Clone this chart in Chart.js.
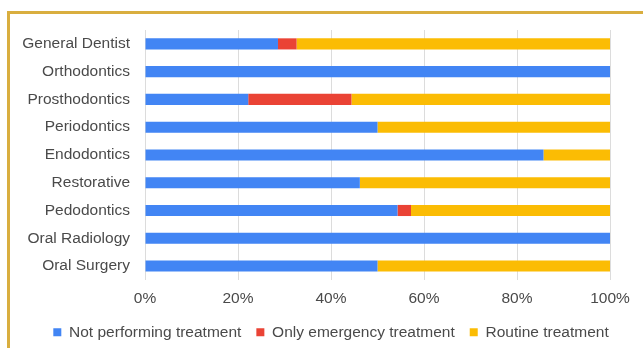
<!DOCTYPE html>
<html>
<head>
<meta charset="utf-8">
<script src="https://cdn.jsdelivr.net/npm/chart.js@4/dist/chart.umd.min.js"></script>
<style>
  html, body { margin: 0; padding: 0; background: #fff; overflow: hidden; }
  #wrap { position: relative; width: 643px; height: 348px; }
  #frame {
    position: absolute; left: 7px; top: 11px; width: 700px; height: 400px;
    border-top: 3px solid #D9AE3F; border-left: 3px solid #D9AE3F;
    pointer-events: none;
  }
  canvas { position: absolute; left: 0; top: 0; }
</style>
</head>
<body>
<div id="wrap">
  <canvas id="chart" width="643" height="348"></canvas>
  <div id="frame"></div>
</div>
<script>
// specialties, top to bottom
const categories = ["General Dentist", "Orthodontics", "Prosthodontics", "Periodontics", "Endodontics",
    "Restorative", "Pedodontics", "Oral Radiology", "Oral Surgery"];

// percent of respondents
const notPerforming = [28.6, 100, 22.2, 50, 85.7, 46.2, 54.3, 100, 50];
const onlyEmergency = [4.0, 0, 22.2, 0, 0, 0, 2.9, 0, 0];
const routine = [67.4, 0, 55.6, 50, 14.3, 53.8, 42.9, 0, 50];

const xTicks = [0, 20, 40, 60, 80, 100];

const FONT = "'Liberation Sans', Arial, sans-serif";
const TEXT = "#4a4a4a";
const SIZE = 15.5;

const makeSet = (label, data, color) => ({
    label: label,
    data: data,
    backgroundColor: color,
    borderWidth: 0,
    categoryPercentage: 0.5,
    barPercentage: 0.8
});

// nudge the legend so it sits where the original one is
const legendShift = {
    id: "legendShift",
    afterLayout(chart) {
        const lg = chart.legend;
        lg.left += 21; lg.right += 21;
        lg.top += 2; lg.bottom += 2;
    }
};

new Chart(document.getElementById("chart").getContext("2d"), {
    type: "bar",
    data: {
        labels: categories,
        datasets: [
            makeSet("Not performing treatment", notPerforming, "#4285F4"),
            makeSet("Only emergency treatment", onlyEmergency, "#EA4335"),
            makeSet("Routine treatment", routine, "#FBBC04")
        ]
    },
    options: {
        indexAxis: "y",
        responsive: false,
        animation: false,
        layout: { padding: { top: 30, right: 33, left: 10, bottom: 0 } },
        scales: {
            x: {
                stacked: true,
                min: 0,
                max: 100,
                afterBuildTicks: (s) => { s.ticks = xTicks.map(v => ({ value: v })); },
                afterFit: (s) => { s.height -= 11; },
                ticks: {
                    callback: (v) => v + "%",
                    font: { family: FONT, size: SIZE },
                    color: TEXT,
                    padding: 10,
                    maxRotation: 0
                },
                grid: { color: "#dcdcdc", lineWidth: 1, drawTicks: false },
                border: { display: false }
            },
            y: {
                stacked: true,
                afterFit: (s) => { s.width = 135; },
                ticks: {
                    font: { family: FONT, size: SIZE },
                    color: TEXT,
                    padding: 15
                },
                grid: { display: false, drawTicks: false },
                border: { display: false }
            }
        },
        plugins: {
            legend: {
                position: "bottom",
                labels: {
                    boxWidth: 8,
                    boxHeight: 8,
                    padding: 15,
                    color: TEXT,
                    font: { family: FONT, size: SIZE }
                }
            },
            tooltip: { enabled: false }
        }
    },
    plugins: [legendShift]
});
</script>
</body>
</html>
